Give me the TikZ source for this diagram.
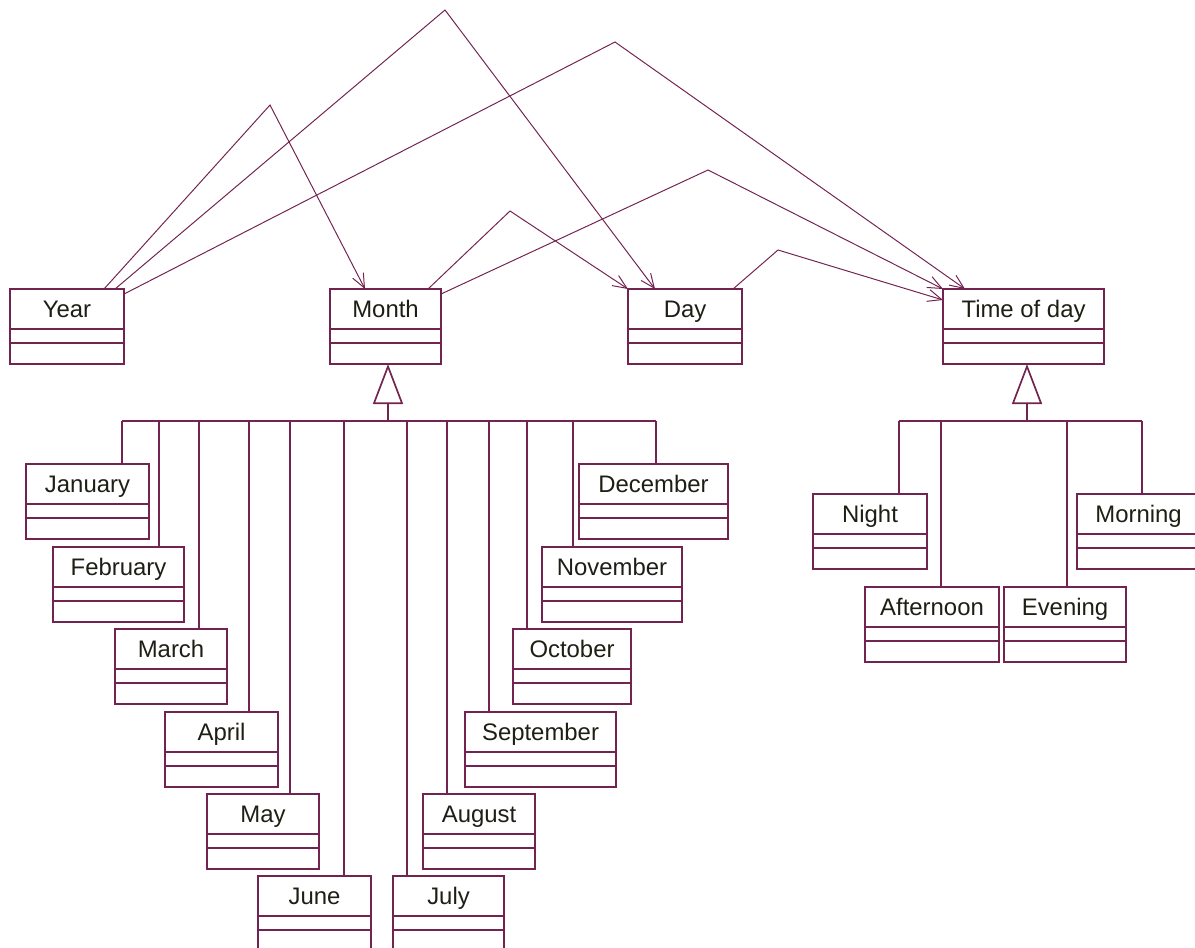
\documentclass[tikz,border=0pt]{standalone}
\usepackage{fontspec}
\setmainfont{Liberation Sans}
\usetikzlibrary{arrows.meta}
\definecolor{umlred}{RGB}{115,35,80}
\definecolor{umltext}{RGB}{30,30,20}

\tikzset{
    cls/.style={draw=umlred, line width=1.2pt, rectangle, anchor=north west, outer sep=0pt,
        inner xsep=0pt, inner ysep=0pt, minimum height=1.875cm,
        text height=0.7cm, text depth=1.175cm, text=umltext, font=\fontsize{17}{20}\selectfont,
        path picture={
            \draw[umlred, line width=1.2pt] ([yshift=-1cm]path picture bounding box.north west) -- ([yshift=-1cm]path picture bounding box.north east);
            \draw[umlred, line width=1.2pt] ([yshift=-1.35cm]path picture bounding box.north west) -- ([yshift=-1.35cm]path picture bounding box.north east);
        }},
    assoc/.style={draw=umlred, line width=0.7pt, -{Straight Barb[length=0.35cm, width=0.3cm]}},
    gen/.style={draw=umlred, line width=1.2pt, -{Triangle[open, length=1cm, width=0.75cm]}},
    tree/.style={draw=umlred, line width=1.2pt}
}

\begin{document}
\begin{tikzpicture}[x=0.025cm, y=-0.025cm]
    \clip (0,0) rectangle (1195,947);

    \node (year) [cls, minimum width=2.85cm] at (10,289) {Year};
    \node (month) [cls, minimum width=2.775cm] at (330,289) {Month};
    \node (day) [cls, minimum width=2.85cm] at (628,289) {Day};
    \node (timeofday) [cls, minimum width=4.025cm] at (943,289) {Time of day};

    \node (jan) [cls, minimum width=3.075cm] at (26,464) {January};
    \node (feb) [cls, minimum width=3.275cm] at (53,547) {February};
    \node (mar) [cls, minimum width=2.8cm] at (115,629) {March};
    \node (apr) [cls, minimum width=2.825cm] at (165,712) {April};
    \node (may) [cls, minimum width=2.8cm] at (207,794) {May};
    \node (jun) [cls, minimum width=2.825cm] at (258,876) {June};
    \node (jul) [cls, minimum width=2.775cm] at (393,876) {July};
    \node (aug) [cls, minimum width=2.8cm] at (423,794) {August};
    \node (sep) [cls, minimum width=3.775cm] at (465,712) {September};
    \node (oct) [cls, minimum width=2.95cm] at (513,629) {October};
    \node (nov) [cls, minimum width=3.5cm] at (542,547) {November};
    \node (dec) [cls, minimum width=3.725cm] at (579,464) {December};

    \node (night) [cls, minimum width=2.85cm] at (813,494) {Night};
    \node (afternoon) [cls, minimum width=3.35cm] at (865,587) {Afternoon};
    \node (evening) [cls, minimum width=3.05cm] at (1004,587) {Evening};
    \node (morning) [cls, minimum width=3.075cm] at (1077,494) {Morning};

    % associations
    \draw[assoc] ([xshift=2.35cm]year.north west) -- (270,105) -- ([xshift=0.875cm]month.north west);
    \draw[assoc] ([xshift=2.625cm]year.north west) -- (445,10) -- ([xshift=0.675cm]day.north west);
    \draw[assoc] ([yshift=-0.125cm]year.north east) -- (615,42) -- ([xshift=0.55cm]timeofday.north west);
    \draw[assoc] ([xshift=2.45cm]month.north west) -- (510,211) -- (day.north west);
    \draw[assoc] ([yshift=-0.125cm]month.north east) -- (708,170) -- (timeofday.north west);
    \draw[assoc] ([xshift=-0.225cm]day.north east) -- (778,250) -- ([yshift=-0.275cm]timeofday.north west);

    % months
    \coordinate (mbus) at (388,421);
    \coordinate (jan-d) at (122,421);
    \coordinate (feb-d) at (159,421);
    \coordinate (mar-d) at (199,421);
    \coordinate (apr-d) at (249,421);
    \coordinate (may-d) at (290,421);
    \coordinate (jun-d) at (344,421);
    \coordinate (jul-d) at (407,421);
    \coordinate (aug-d) at (447,421);
    \coordinate (sep-d) at (489,421);
    \coordinate (oct-d) at (527,421);
    \coordinate (nov-d) at (573,421);
    \coordinate (dec-d) at (656,421);
    \draw[gen] (mbus) -- (mbus |- month.south);
    \draw[tree] (jan-d) -- (dec-d);
    \draw[tree] (jan-d) -- (jan-d |- jan.north);
    \draw[tree] (feb-d) -- (feb-d |- feb.north);
    \draw[tree] (mar-d) -- (mar-d |- mar.north);
    \draw[tree] (apr-d) -- (apr-d |- apr.north);
    \draw[tree] (may-d) -- (may-d |- may.north);
    \draw[tree] (jun-d) -- (jun-d |- jun.north);
    \draw[tree] (jul-d) -- (jul-d |- jul.north);
    \draw[tree] (aug-d) -- (aug-d |- aug.north);
    \draw[tree] (sep-d) -- (sep-d |- sep.north);
    \draw[tree] (oct-d) -- (oct-d |- oct.north);
    \draw[tree] (nov-d) -- (nov-d |- nov.north);
    \draw[tree] (dec-d) -- (dec-d |- dec.north);

    % times of day
    \coordinate (tbus) at (1027,421);
    \coordinate (night-d) at (899,421);
    \coordinate (afternoon-d) at (941,421);
    \coordinate (evening-d) at (1067,421);
    \coordinate (morning-d) at (1142,421);
    \draw[gen] (tbus) -- (tbus |- timeofday.south);
    \draw[tree] (night-d) -- (morning-d);
    \draw[tree] (night-d) -- (night-d |- night.north);
    \draw[tree] (afternoon-d) -- (afternoon-d |- afternoon.north);
    \draw[tree] (evening-d) -- (evening-d |- evening.north);
    \draw[tree] (morning-d) -- (morning-d |- morning.north);
\end{tikzpicture}
\end{document}
